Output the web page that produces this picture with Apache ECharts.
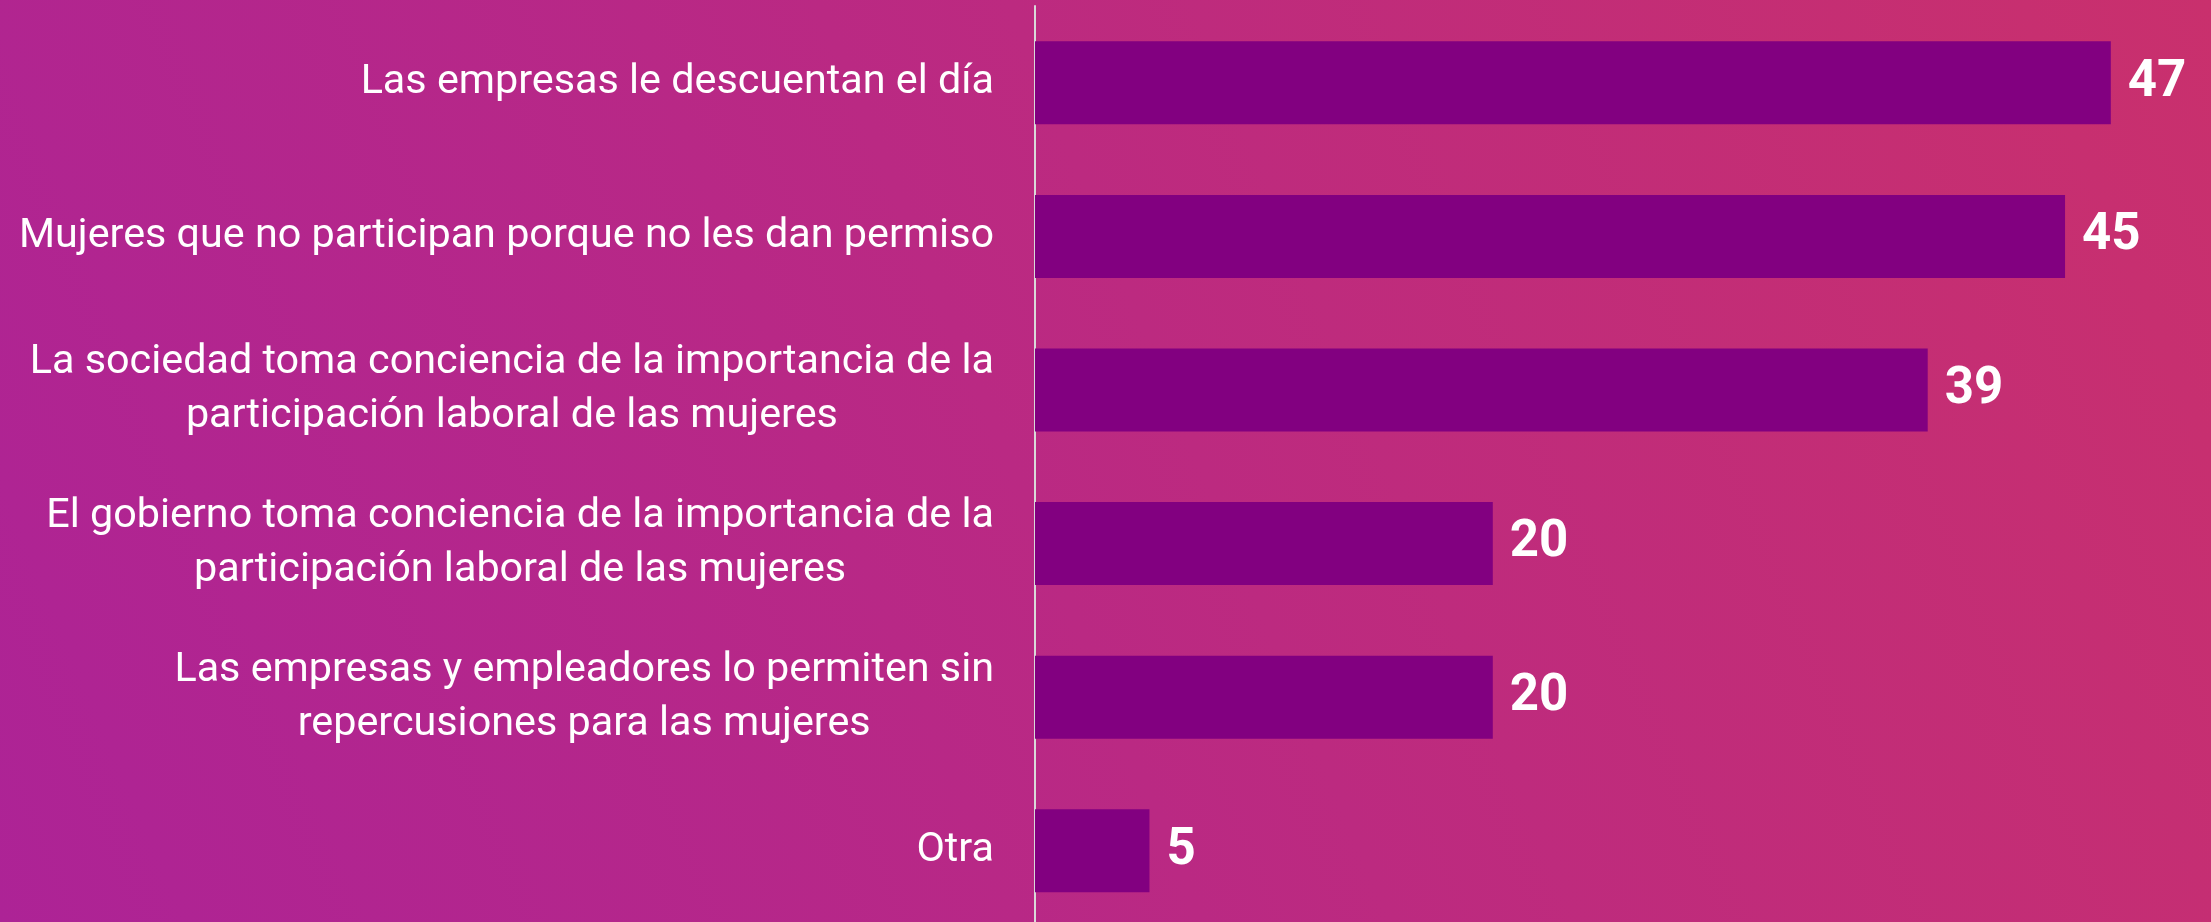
<!DOCTYPE html>
<html>
<head>
<meta charset="utf-8">
<script src="https://cdn.jsdelivr.net/npm/echarts@6/dist/echarts.min.js"></script>
<style>
html,body{margin:0;padding:0;width:2211px;height:922px;overflow:hidden;}
#chart{width:2211px;height:922px;}
</style>
</head>
<body>
<div id="chart"></div>
<script>
const categories = [
  "Las empresas le descuentan el día",
  "Mujeres que no participan porque no les dan permiso",
  "La sociedad toma conciencia de la importancia de la\nparticipación laboral de las mujeres",
  "El gobierno toma conciencia de la importancia de la\nparticipación laboral de las mujeres",
  "Las empresas y empleadores lo permiten sin\nrepercusiones para las mujeres",
  "Otra"
];
const values = [47, 45, 39, 20, 20, 5];

const chart = echarts.init(document.getElementById('chart'));
chart.setOption({
  backgroundColor: new echarts.graphic.LinearGradient(0, 1, 1, 0, [
    {offset: 0, color: '#AD2396'},
    {offset: 1, color: '#C9306D'}
  ]),
  animation: false,
  grid: {left: 1035, right: 31.5, top: 6, height: 921.6, containLabel: false, outerBoundsMode: 'none'},
  xAxis: {
    type: 'value', min: 0, max: 50,
    show: false
  },
  yAxis: {
    type: 'category',
    inverse: true,
    data: categories,
    axisTick: {show: false},
    axisLine: {show: true, lineStyle: {color: '#D9D9D9', width: 2}},
    axisLabel: {
      margin: 41,
      align: 'right',
      color: '#FFFFFF',
      fontSize: 41.3,
      fontFamily: 'Roboto',
      lineHeight: 54,
      formatter: function (v) {
        return v.split('\n').map(l => '{c|' + l + '}').join('\n');
      },
      rich: {
        c: {align: 'center', color: '#FFFFFF', fontSize: 41.3, fontFamily: 'Roboto', lineHeight: 54}
      }
    }
  },
  series: [{
    type: 'bar',
    data: values,
    barWidth: 83,
    itemStyle: {color: '#820080'},
    label: {
      show: true,
      position: 'right',
      distance: 17,
      color: '#FFFFFF',
      fontSize: 51,
      fontWeight: 'bold',
      fontFamily: 'Roboto'
    }
  }]
});
</script>
</body>
</html>
